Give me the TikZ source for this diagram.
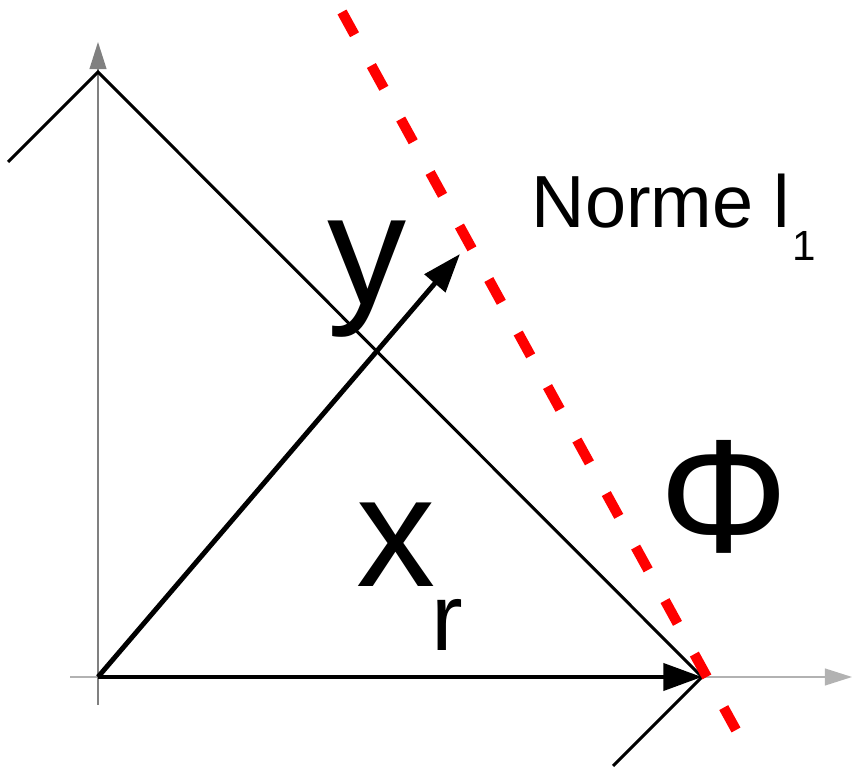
\documentclass[tikz,border=0pt]{standalone}
\usepackage{fontspec}
\setmainfont{Liberation Sans}
\usetikzlibrary{arrows.meta}

\begin{document}
\begin{tikzpicture}[
    x=0.01cm, y=-0.01cm,
    axis/.style={draw=gray, line width=0.4pt, -{Triangle[length=7.7pt,width=4.8pt]}},
    guide/.style={draw=black, line width=0.85pt},
    vec/.style={draw=black, line width=1.4pt, -{Triangle[length=11pt,width=7.6pt]}},
    norm/.style={draw=red, line width=2.9pt, dash pattern=on 0.26cm off 0.35cm},
    lbl/.style={anchor=base west, inner sep=0pt}
]
\useasboundingbox (0,0) rectangle (852,768);

% axes
\coordinate (O) at (98,677);
\coordinate (xa) at (70,677);
\coordinate (xb) at (852,677);
\coordinate (ya) at (98,705);
\coordinate (yb) at (98,42);
\draw[axis, draw=gray!60] (xa) -- (xb);
\draw[axis] (ya) -- (yb);

% iso-norm line
\coordinate (g1) at (8,162);
\coordinate (g2) at (98,72);
\coordinate (X) at (702,677);
\coordinate (g4) at (613,766);
\draw[guide] (g1) -- (g2) -- (X) -- (g4);

% vectors
\coordinate (Y) at (460,254);
\draw[vec] (O) -- (Y);
\draw[vec] (O) -- (X);

% red dashed
\coordinate (r1) at (342,12);
\coordinate (r2) at (736,730);
\draw[norm] (r1) -- (r2);

% labels
\node[lbl] (ylab) at (327,305) {\fontsize{45}{54}\selectfont y};
\node[lbl] (norme) at (531,228) {\fontsize{21}{25}\selectfont Norme l\hspace{0.02cm}\raisebox{-0.32cm}{\fontsize{12}{14}\selectfont 1}};
\node[lbl] (phi) at (659,553) {\fontsize{46}{55}\selectfont Φ};
\node[lbl] (xr) at (356,587) {\fontsize{45}{54}\selectfont x\hspace{-0.04cm}\raisebox{-0.63cm}{\fontsize{27}{32}\selectfont r}};

\end{tikzpicture}
\end{document}
